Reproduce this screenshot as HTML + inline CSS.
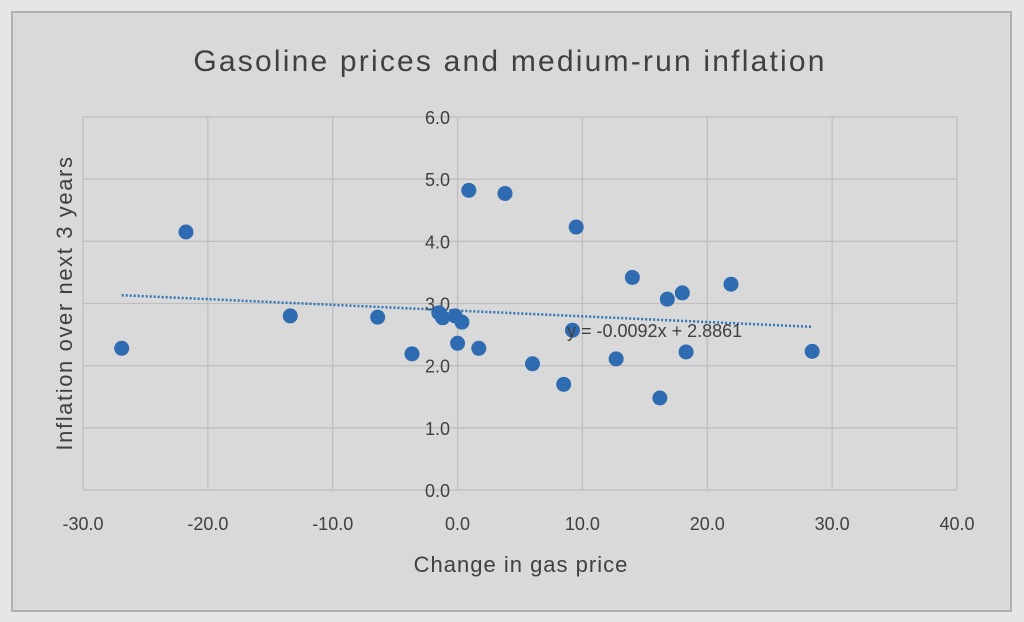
<!DOCTYPE html>
<html><head><meta charset="utf-8"><style>
body{margin:0;background:#e4e4e4;font-family:"Liberation Sans",sans-serif}
svg{display:block}
</style></head><body>
<svg width="1024" height="622">
<rect x="0" y="0" width="1024" height="622" fill="#e6e6e6"/>
<rect x="12" y="12" width="999" height="599" fill="#d9d9d9" stroke="#b0b0b0" stroke-width="2"/>
<text x="510" y="71" font-size="30" letter-spacing="2.2" text-anchor="middle" fill="#404040">Gasoline prices and medium-run inflation</text>
<g id="grid"></g><g id="marks"></g>
<text x="521" y="572" font-size="22" letter-spacing="1" text-anchor="middle" fill="#404040">Change in gas price</text>
<text transform="translate(72,303) rotate(-90)" font-size="22" letter-spacing="1.6" text-anchor="middle" fill="#404040">Inflation over next 3 years</text>
</svg>
<script>
const xs=[-26.9,-21.75,-13.4,-6.4,-3.65,-1.5,-1.2,-0.2,0.35,0.0,0.9,1.7,3.8,6.0,8.5,9.5,9.2,12.7,14.0,16.2,16.8,18.0,18.3,21.9,28.4];
const ys=[2.28,4.15,2.80,2.78,2.19,2.85,2.77,2.80,2.70,2.36,4.82,2.28,4.77,2.03,1.70,4.23,2.57,2.11,3.42,1.48,3.07,3.17,2.22,3.31,2.23];
const xTicks=[-30,-20,-10,0,10,20,30,40];
const yTicks=[0,1,2,3,4,5,6];
const slope=-0.0092, intercept=2.8861;
const X=v=>83+(v+30)*874/70, Y=v=>490-v*373/6;
const NS='http://www.w3.org/2000/svg';
const g=document.getElementById('grid'), m=document.getElementById('marks');
function el(t,a,p){const e=document.createElementNS(NS,t);for(const k in a)e.setAttribute(k,a[k]);p.appendChild(e);return e;}
xTicks.forEach(t=>{
 const l=el('line',{x1:X(t),x2:X(t),y1:Y(6),y2:Y(0),stroke:'#bfbfbf','stroke-width':1.3},g);
 
 
 const tx=el('text',{x:X(t),y:530,'font-size':18,'text-anchor':'middle',fill:'#404040'},g);
 tx.textContent=t.toFixed(1);
 
 
});
yTicks.forEach(t=>{
 const l=el('line',{x1:X(-30),x2:X(40),y1:Y(t),y2:Y(t),stroke:'#bfbfbf','stroke-width':1.3},g);
 
 
 const tx=el('text',{x:X(0)-20,y:Y(t)+7,'font-size':18,'text-anchor':'middle',fill:'#404040'},g);
 tx.textContent=t.toFixed(1);
 
 
});
const x0=Math.min(...xs), x1=Math.max(...xs);
const tl=el('line',{x1:X(x0),x2:X(x1),y1:Y(intercept+slope*x0),y2:Y(intercept+slope*x1),stroke:'#2e75b6','stroke-width':2.5,'stroke-dasharray':'2 2'},m);


xs.forEach((v,i)=>{
 const c=el('circle',{cx:X(v),cy:Y(ys[i]),r:7.5,fill:'#2e6bb0'},m);
 
 
});
const eq=el('text',{x:567,y:337,'font-size':18,fill:'#404040'},m);
eq.textContent='y = -0.0092x + 2.8861';


</script>
</body></html>
